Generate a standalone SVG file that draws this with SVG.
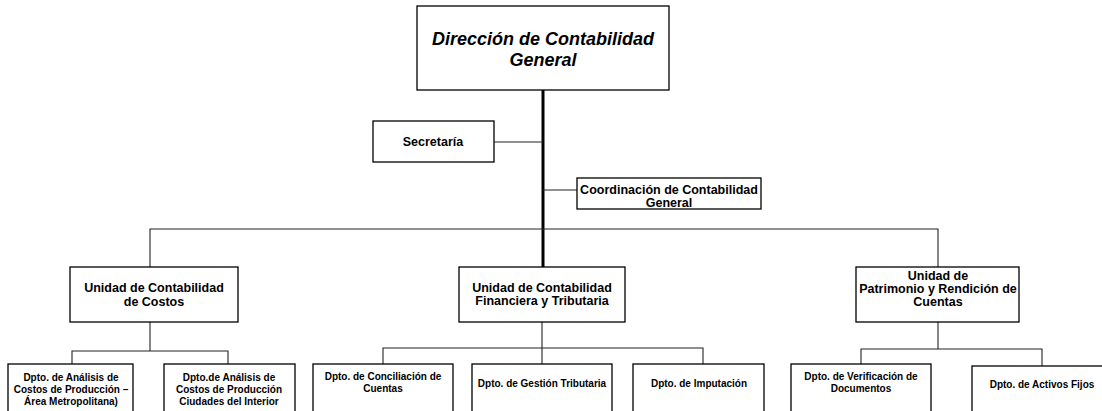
<svg xmlns="http://www.w3.org/2000/svg" width="1102" height="411" viewBox="0 0 1102 411">
<style>
.box{fill:#fff;stroke:#000;stroke-width:1.3}
.t{font-family:"Liberation Sans",Arial,sans-serif;font-weight:bold;text-anchor:middle;fill:#000}
.title{font-size:18px;font-style:italic}
.u{font-size:12.5px}
.d{font-size:10px}
.c{fill:none;stroke:#222;stroke-width:1.1}
.main{fill:none;stroke:#000;stroke-width:3}
</style>
<rect width="1102" height="411" fill="#fff"/>
<g id="connectors">
<line class="main" x1="543" y1="90" x2="543" y2="267"/>
<line class="c" x1="494" y1="142" x2="543" y2="142"/>
<line class="c" x1="543" y1="190" x2="577" y2="190"/>
<polyline class="c" points="150,267 150,229 938,229 938,267"/>
<line class="c" x1="150" y1="322" x2="150" y2="351"/>
<polyline class="c" points="72,364 72,351 228,351 228,364"/>
<line class="c" x1="542" y1="322" x2="542" y2="364"/>
<polyline class="c" points="383,364 383,348 703,348 703,364"/>
<line class="c" x1="938" y1="322" x2="938" y2="349"/>
<polyline class="c" points="861,364 861,349 1042,349 1042,366"/>
</g>
<g id="direccion">
<rect class="box" x="417" y="6" width="252" height="84"/>
<text class="t title" x="543" y="45">Dirección de Contabilidad</text>
<text class="t title" x="543" y="66">General</text>
</g>
<g id="secretaria">
<rect class="box" x="373" y="121" width="121" height="41"/>
<text class="t u" x="433" y="146">Secretaría</text>
</g>
<g id="coordinacion">
<rect class="box" x="577" y="178" width="184" height="31"/>
<text class="t u" x="669" y="194">Coordinación de Contabilidad</text>
<text class="t u" x="669" y="206.5">General</text>
</g>
<g id="unidad-costos">
<rect class="box" x="70" y="267" width="168" height="55"/>
<text class="t u" x="154" y="292">Unidad de Contabilidad</text>
<text class="t u" x="154" y="306">de Costos</text>
</g>
<g id="unidad-financiera">
<rect class="box" x="459" y="267" width="166" height="55"/>
<text class="t u" x="542" y="292">Unidad de Contabilidad</text>
<text class="t u" x="542" y="305">Financiera y Tributaria</text>
</g>
<g id="unidad-patrimonio">
<rect class="box" x="856" y="267" width="163" height="55"/>
<text class="t u" x="938" y="280">Unidad de</text>
<text class="t u" x="938" y="293">Patrimonio y Rendición de</text>
<text class="t u" x="938" y="306">Cuentas</text>
</g>
<g id="dpto-area-metropolitana">
<rect class="box" x="8" y="364" width="125" height="52"/>
<text class="t d" x="71" y="380.5">Dpto. de Análisis de</text>
<text class="t d" x="71" y="392.5">Costos de Producción –</text>
<text class="t d" x="71" y="404.5">Área Metropolitana)</text>
</g>
<g id="dpto-ciudades-interior">
<rect class="box" x="164" y="364" width="131" height="52"/>
<text class="t d" x="229" y="380.5">Dpto.de Análisis de</text>
<text class="t d" x="229" y="392.5">Costos de Producción</text>
<text class="t d" x="229" y="404.5">Ciudades del Interior</text>
</g>
<g id="dpto-conciliacion">
<rect class="box" x="313" y="364" width="140" height="52"/>
<text class="t d" x="383" y="380">Dpto. de Conciliación de</text>
<text class="t d" x="383" y="392">Cuentas</text>
</g>
<g id="dpto-gestion-tributaria">
<rect class="box" x="472" y="364" width="140" height="52"/>
<text class="t d" x="542" y="386.5">Dpto. de Gestión Tributaria</text>
</g>
<g id="dpto-imputacion">
<rect class="box" x="633" y="364" width="131" height="52"/>
<text class="t d" x="699" y="386.5">Dpto. de Imputación</text>
</g>
<g id="dpto-verificacion">
<rect class="box" x="791" y="364" width="140" height="52"/>
<text class="t d" x="861" y="380">Dpto. de Verificación de</text>
<text class="t d" x="861" y="392">Documentos</text>
</g>
<g id="dpto-activos-fijos">
<rect class="box" x="972" y="366" width="140" height="52"/>
<text class="t d" x="1042" y="387.5">Dpto. de Activos Fijos</text>
</g>
</svg>
